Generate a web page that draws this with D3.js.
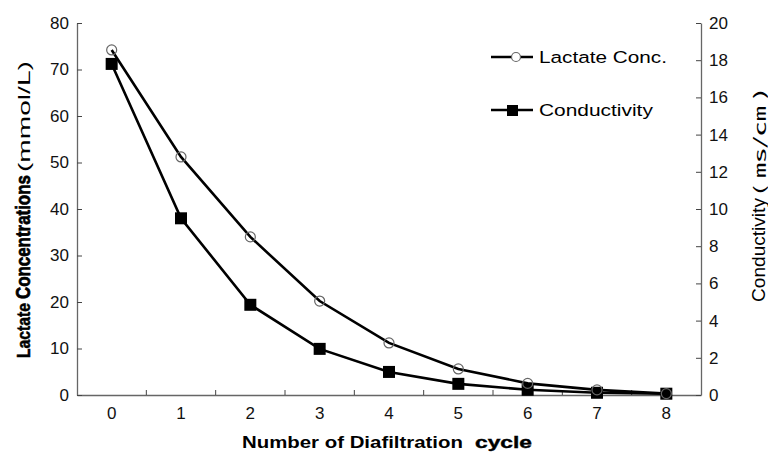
<!DOCTYPE html>
<html>
<head>
<meta charset="utf-8">
<script src="https://cdn.jsdelivr.net/npm/d3@7"></script>
<style>
  body { margin: 0; background: #fff; }
  svg text { font-family: "Liberation Sans", Arial, sans-serif; }
</style>
</head>
<body>
<div id="chart-area"></div>
<script>
// diafiltration cycles and the two series
var cycles = [0, 1, 2, 3, 4, 5, 6, 7, 8];
var lactate = [74.2, 51.2, 34, 20.2, 11.2, 5.6, 2.5, 1.1, 0.3];
var conductivity = [17.8, 9.5, 4.85, 2.48, 1.24, 0.6, 0.28, 0.12, 0.07];
var leftTicks = [0, 10, 20, 30, 40, 50, 60, 70, 80];
var rightTicks = [0, 2, 4, 6, 8, 10, 12, 14, 16, 18, 20];

var W = 768, H = 453;
var m = {left: 77, right: 67, top: 23, bottom: 58};

var svg = d3.select('#chart-area').append('svg')
    .attr('width', W)
    .attr('height', H);

var x = d3.scaleBand()
    .domain(cycles)
    .range([m.left, W - m.right])
    .padding(0);

var yL = d3.scaleLinear().domain([0, 80]).range([H - m.bottom, m.top]);
var yR = d3.scaleLinear().domain([0, 20]).range([H - m.bottom, m.top]);

var cx = function(i) { return x(cycles[i]) + x.bandwidth() / 2; };

// axes, MATLAB style: ticks point inward
var gx = svg.append('g')
    .attr('transform', 'translate(0,' + (H - m.bottom) + ')')
    .call(d3.axisBottom(x).tickSize(0).tickPadding(12));
gx.selectAll('text').attr('font-size', 17).attr('fill', '#111');
gx.select('.domain').attr('stroke', '#666').attr('stroke-width', 1.3);
// inner ticks sit on the band boundaries
gx.selectAll('.bnd')
    .data(cycles.slice(1))
    .enter().append('line')
    .attr('x1', function(d) { return x(d); })
    .attr('x2', function(d) { return x(d); })
    .attr('y1', 0).attr('y2', -5)
    .attr('stroke', '#444');

var gl = svg.append('g')
    .attr('transform', 'translate(' + m.left + ',0)')
    .call(d3.axisLeft(yL).tickValues(leftTicks).tickSizeInner(-5).tickSizeOuter(0).tickPadding(8));
gl.selectAll('text').attr('font-size', 17).attr('fill', '#111');
gl.select('.domain').attr('stroke', '#666').attr('stroke-width', 1.3);
gl.selectAll('.tick line').attr('stroke', '#444');

var gr = svg.append('g')
    .attr('transform', 'translate(' + (W - m.right) + ',0)')
    .call(d3.axisRight(yR).tickValues(rightTicks).tickSizeInner(-5).tickSizeOuter(0).tickPadding(8));
gr.selectAll('text').attr('font-size', 17).attr('fill', '#111');
gr.select('.domain').attr('stroke', '#666').attr('stroke-width', 1.3);
gr.selectAll('.tick line').attr('stroke', '#444');

// lines
var lineL = d3.line()
    .x(function(d, i) { return cx(i); })
    .y(function(d) { return yL(d); });
var lineR = d3.line()
    .x(function(d, i) { return cx(i); })
    .y(function(d) { return yR(d); });

svg.append('path').datum(lactate)
    .attr('d', lineL).attr('fill', 'none')
    .attr('stroke', '#000').attr('stroke-width', 2.6);
svg.append('path').datum(conductivity)
    .attr('d', lineR).attr('fill', 'none')
    .attr('stroke', '#000').attr('stroke-width', 2.6);

svg.selectAll('.sq').data(conductivity).enter().append('rect')
    .attr('x', function(d, i) { return cx(i) - 6; })
    .attr('y', function(d) { return yR(d) - 6; })
    .attr('width', 12).attr('height', 12)
    .attr('fill', '#000');

svg.selectAll('.ci').data(lactate).enter().append('circle')
    .attr('cx', function(d, i) { return cx(i); })
    .attr('cy', function(d) { return yL(d); })
    .attr('r', 5)
    .attr('fill', 'none')
    .attr('stroke', '#666').attr('stroke-width', 1.2);

// text piece scaled horizontally so it covers the width it has in the original
function piece(g, x0, len, size, weight, txt, family) {
    var p = g.append('g');
    var t = p.append('text')
        .attr('x', 0).attr('y', 0)
        .attr('font-size', size)
        .attr('font-weight', weight)
        .text(txt);
    if (family) t.style('font-family', family);
    var w = t.node().getComputedTextLength();
    p.attr('transform', 'translate(' + x0 + ',0) scale(' + (len / w) + ',1)');
    return t;
}

// legend
var leg = svg.append('g');
leg.append('line').attr('x1', 491).attr('x2', 533).attr('y1', 57).attr('y2', 57)
    .attr('stroke', '#000').attr('stroke-width', 2.6);
leg.append('circle').attr('cx', 516).attr('cy', 57).attr('r', 4.5)
    .attr('fill', '#fff').attr('stroke', '#666').attr('stroke-width', 1.2);
leg.append('line').attr('x1', 491).attr('x2', 533).attr('y1', 110).attr('y2', 110)
    .attr('stroke', '#000').attr('stroke-width', 2.6);
leg.append('rect').attr('x', 507).attr('y', 105).attr('width', 11).attr('height', 11)
    .attr('fill', '#000');
piece(leg.append('g').attr('transform', 'translate(0,63)'), 539, 128, 17, 'normal', 'Lactate Conc.');
piece(leg.append('g').attr('transform', 'translate(0,116)'), 539, 114, 17, 'normal', 'Conductivity');

// axis titles
var tl = svg.append('g').attr('transform', 'translate(30,0) rotate(-90)');
piece(tl, -358, 55, 19, 'bold', 'Lactate').attr('stroke', '#000').attr('stroke-width', 0.5);
piece(tl, -299, 124, 20, 'bold', 'Concentrations').attr('stroke', '#000').attr('stroke-width', 0.7);
piece(tl, -172, 111, 17, 'normal', '(mmol/L)');

var tr = svg.append('g').attr('transform', 'translate(765,0) rotate(-90)');
piece(tr, -302, 104, 18, 'normal', 'Conductivity');
piece(tr, -195, 106, 15, 'normal', '( ㎳/㎝ )', '"Noto Sans CJK JP", sans-serif');

var tb = svg.append('g').attr('transform', 'translate(0,448)');
piece(tb, 242, 221, 16, 'bold', 'Number of Diafiltration');
piece(tb, 475, 57, 17, 'bold', 'cycle').attr('stroke', '#000').attr('stroke-width', 0.4);
</script>
</body>
</html>
